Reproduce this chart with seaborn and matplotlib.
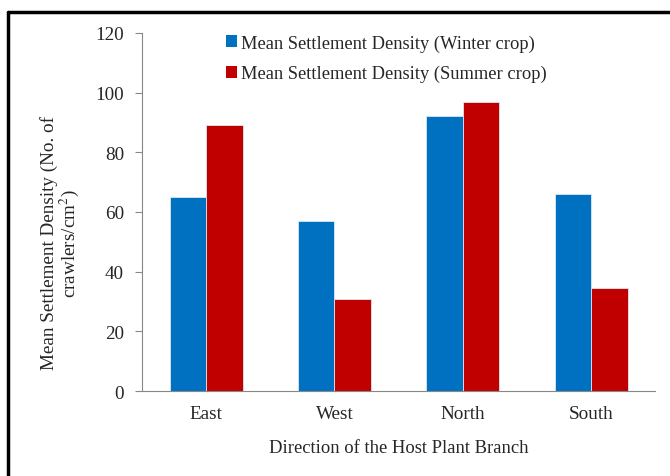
import matplotlib
matplotlib.use('Agg')
import matplotlib.pyplot as plt
import seaborn as sns
import pandas as pd
from matplotlib.lines import Line2D
from matplotlib.patches import Patch

directions = ['East', 'West', 'North', 'South']
winter = [65, 57, 92, 66]
summer = [89.3, 31, 97, 34.5]
series_names = ['Mean Settlement Density (Winter crop)',
                'Mean Settlement Density (Summer crop)']
colors = ['#0070C0', '#C00000']

df = pd.DataFrame({
    'direction': directions * 2,
    'value': winter + summer,
    'series': [series_names[0]] * 4 + [series_names[1]] * 4,
})

sns.set_style('white')
plt.rcParams['font.family'] = ['Liberation Serif', 'DejaVu Serif']
plt.rcParams['mathtext.fontset'] = 'stix'

fig = plt.figure(figsize=(6.7, 4.77), dpi=100)
ax = fig.add_axes([0.212, 0.178, 0.766, 0.751])

sns.barplot(data=df, x='direction', y='value', hue='series', palette=colors,
            saturation=1, width=0.57, edgecolor='#dde8f2', linewidth=0.6,
            ax=ax, legend=False)

ax.set_ylim(0, 120)
ax.set_xlim(-0.5, 3.5)
ax.set_yticks(range(0, 121, 20))
ax.set_xticks(range(4))
ax.set_xticklabels(directions)
ax.set_xticks([-0.5, 0.5, 1.5, 2.5, 3.5], minor=True)
ax.tick_params(axis='x', which='major', length=0, pad=10, labelsize=13.8)
ax.tick_params(axis='x', which='minor', length=5, color='#888888', width=0.8, direction='out')
ax.tick_params(axis='y', length=5, color='#888888', width=0.8, direction='out',
               labelsize=13.8, left=True, pad=8)

for s in ['top', 'right']:
    ax.spines[s].set_visible(False)
for s in ['left', 'bottom']:
    ax.spines[s].set_color('#888888')
    ax.spines[s].set_linewidth(0.8)

ax.set_xlabel('Direction of the Host Plant Branch', fontsize=13.4, labelpad=12)
ax.set_ylabel('Mean Settlement Density (No. of\ncrawlers/cm$^{2}$)', fontsize=13.8,
              linespacing=1.0)
ax.yaxis.set_label_coords(-0.118, 0.415)

handles = [Patch(facecolor=c, edgecolor='none') for c in colors]
ax.legend(handles, series_names, loc='upper left', bbox_to_anchor=(0.337, 0.926),
          bbox_transform=fig.transFigure, frameon=False, fontsize=13.3,
          handlelength=0.6, handleheight=0.6, handletextpad=0.25, labelspacing=0.72,
          borderaxespad=0, borderpad=0)

# black frame lines on left and top of the image
fig.add_artist(Line2D([0.012, 0.012], [0.0, 0.973], color='black', lw=2.5,
                      transform=fig.transFigure))
fig.add_artist(Line2D([0.012, 1.0], [0.973, 0.973], color='black', lw=2.5,
                      transform=fig.transFigure))

fig.savefig('out.png', dpi=100)
